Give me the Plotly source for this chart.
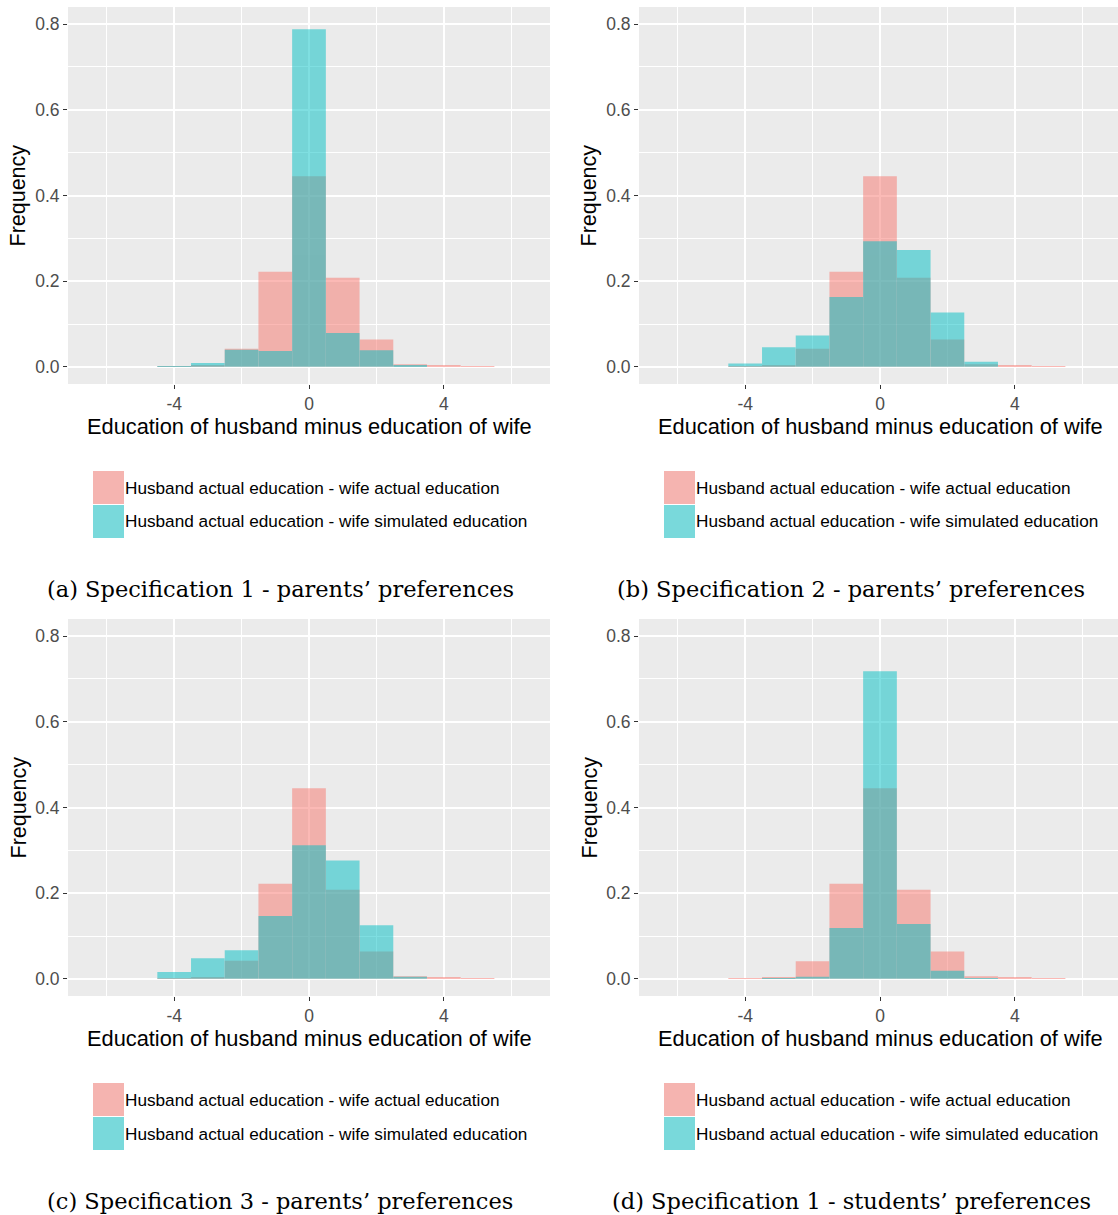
import plotly.graph_objects as go

# Bin centres of the education-gap histogram (years, bin width 1)
bin_centres = [-6, -5, -4, -3, -2, -1, 0, 1, 2, 3, 4, 5, 6]

# Relative frequencies: husband actual - wife actual education
actual_a = [0, 0, 0.001, 0.004, 0.042, 0.222, 0.445, 0.208, 0.064, 0.006, 0.003, 0.001, 0]
actual_b = [0, 0, 0.001, 0.004, 0.042, 0.222, 0.445, 0.208, 0.064, 0.006, 0.003, 0.001, 0]
actual_c = [0, 0, 0.001, 0.004, 0.042, 0.222, 0.445, 0.208, 0.064, 0.006, 0.003, 0.001, 0]
actual_d = [0, 0, 0.001, 0.004, 0.041, 0.222, 0.445, 0.208, 0.064, 0.006, 0.003, 0.001, 0]

# Relative frequencies: husband actual - wife simulated education
simulated_a = [0, 0, 0.002, 0.009, 0.040, 0.037, 0.788, 0.079, 0.039, 0.004, 0, 0, 0]
simulated_b = [0, 0, 0.008, 0.046, 0.073, 0.163, 0.293, 0.273, 0.127, 0.012, 0, 0, 0]
simulated_c = [0, 0, 0.016, 0.048, 0.067, 0.147, 0.312, 0.276, 0.125, 0.005, 0, 0, 0]
simulated_d = [0, 0, 0, 0.001, 0.005, 0.119, 0.718, 0.128, 0.019, 0.002, 0, 0, 0]

series_names = [
    "Husband actual education - wife actual education",
    "Husband actual education - wife simulated education",
]
captions = [
    "(a) Specification 1 - parents\u2019 preferences",
    "(b) Specification 2 - parents\u2019 preferences",
    "(c) Specification 3 - parents\u2019 preferences",
    "(d) Specification 1 - students\u2019 preferences",
]
x_title = "Education of husband minus education of wife"
y_title = "Frequency"

x_tickvals = [-4, 0, 4]
x_ticktext = ["-4", "0", "4"]
x_minorvals = [-6, -2, 2, 6]
y_tickvals = [0.0, 0.2, 0.4, 0.6, 0.8]
y_ticktext = ["0.0", "0.2", "0.4", "0.6", "0.8"]
y_minorvals = [0.1, 0.3, 0.5, 0.7]

W, H = 1118, 1215
RED = "#F8766D"
CYAN = "#00BFC4"
BG = "#EBEBEB"
SANS = "Liberation Sans, Arial, sans-serif"
SERIF = "DejaVu Serif, serif"


def fx(px):
    return px / W


def fy(py):
    return 1 - py / H


# Panel boxes in pixels: (left, right, top, bottom)
panels = [
    (68, 550, 7, 384),
    (639, 1118, 7, 384),
    (68, 550, 619, 996),
    (639, 1118, 619, 996),
]
actual_sets = [actual_a, actual_b, actual_c, actual_d]
simulated_sets = [simulated_a, simulated_b, simulated_c, simulated_d]

fig = go.Figure()
layout = dict(
    width=W,
    height=H,
    margin=dict(l=0, r=0, t=0, b=0),
    paper_bgcolor="white",
    plot_bgcolor=BG,
    barmode="overlay",
    showlegend=False,
    shapes=[],
    annotations=[],
)

px_per_unit = (550 - 68) / 14.3
tick_font = dict(family=SANS, size=17.5, color="#4D4D4D")

for i, (l, r, t, b) in enumerate(panels):
    n = "" if i == 0 else str(i + 1)
    xa, ya = "x" + n, "y" + n
    for vals, colour, name in (
        (actual_sets[i], RED, series_names[0]),
        (simulated_sets[i], CYAN, series_names[1]),
    ):
        fig.add_trace(go.Bar(
            x=bin_centres, y=vals, width=1, name=name,
            marker=dict(color=colour, line=dict(width=0)),
            opacity=0.5, xaxis=xa, yaxis=ya,
        ))

    x0 = -7.15
    x1 = x0 + (r - l) / px_per_unit
    layout["xaxis" + n] = dict(
        domain=[fx(l), fx(r)], range=[x0, x1], anchor=ya,
        tickvals=x_tickvals, ticktext=x_ticktext,
        ticks="outside", ticklen=4, tickwidth=1.1, tickcolor="#333333",
        tickfont=tick_font,
        showgrid=True, gridcolor="white", gridwidth=1.6,
        zeroline=False, showline=False,
        minor=dict(tickvals=x_minorvals, showgrid=True, gridcolor="white",
                   gridwidth=0.8, ticks=""),
        fixedrange=True,
    )
    layout["yaxis" + n] = dict(
        domain=[fy(b), fy(t)], range=[-0.04, 0.84], anchor=xa,
        tickvals=y_tickvals, ticktext=y_ticktext,
        ticks="outside", ticklen=4, tickwidth=1.1, tickcolor="#333333",
        tickfont=tick_font,
        showgrid=True, gridcolor="white", gridwidth=1.6,
        zeroline=False, showline=False,
        minor=dict(tickvals=y_minorvals, showgrid=True, gridcolor="white",
                   gridwidth=0.8, ticks=""),
        fixedrange=True,
    )

    cx = l + 7.15 * px_per_unit
    # axis titles
    layout["annotations"].append(dict(
        text=x_title, x=fx(cx), y=fy(b + 42), xref="paper", yref="paper",
        showarrow=False, xanchor="center", yanchor="middle",
        font=dict(family=SANS, size=21.8, color="black"),
    ))
    layout["annotations"].append(dict(
        text=y_title, x=fx(l - 50), y=fy((t + b) / 2), xref="paper", yref="paper",
        showarrow=False, xanchor="center", yanchor="middle", textangle=-90,
        font=dict(family=SANS, size=21.5, color="black"),
    ))

    # legend below each panel
    kx0 = l + 25
    kx1 = kx0 + 31
    ky = b + 87
    for j, colour in enumerate((RED, CYAN)):
        y0 = ky + j * 34
        y1 = y0 + 33
        layout["shapes"].append(dict(
            type="rect", xref="paper", yref="paper",
            x0=fx(kx0), x1=fx(kx1), y0=fy(y1), y1=fy(y0),
            fillcolor="#F2F2F2", line=dict(width=0), layer="above",
        ))
        layout["shapes"].append(dict(
            type="rect", xref="paper", yref="paper",
            x0=fx(kx0), x1=fx(kx1), y0=fy(y1), y1=fy(y0),
            fillcolor=colour, opacity=0.5, line=dict(width=0), layer="above",
        ))
        layout["annotations"].append(dict(
            text=series_names[j], x=fx(kx1 - 1), y=fy((y0 + y1) / 2),
            xref="paper", yref="paper", showarrow=False,
            xanchor="left", yanchor="middle",
            font=dict(family=SANS, size=17.2, color="black"),
        ))

    # sub-figure caption
    cap_x = 280 if l < 300 else 851
    layout["annotations"].append(dict(
        text=captions[i], x=fx(cap_x), y=fy(b + 205), xref="paper", yref="paper",
        showarrow=False, xanchor="center", yanchor="middle",
        font=dict(family=SERIF, size=22.5, color="black"),
    ))

fig.update_layout(**layout)
fig.write_html("out.html")
